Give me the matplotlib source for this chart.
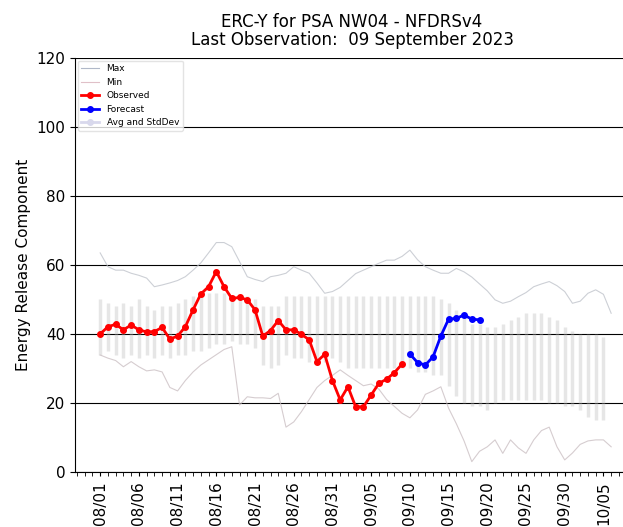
import numpy as np
import matplotlib
matplotlib.use("Agg")
import matplotlib.pyplot as plt
import matplotlib.dates as mdates
from matplotlib.lines import Line2D

start = np.datetime64("2023-08-01")

observed = [40.0, 42.1, 42.8, 41.2, 42.6, 41.2, 40.6, 40.7, 41.9, 38.5,
            39.4, 42.1, 47.0, 51.6, 53.7, 58.1, 53.7, 50.3, 50.6, 49.9,
            47.0, 39.4, 41.0, 43.9, 41.2, 41.2, 39.9, 38.3, 32.0, 34.1,
            26.5, 20.9, 24.7, 18.9, 18.9, 22.3, 25.7, 26.9, 28.8, 31.3]
forecast = [34.2, 31.7, 31.0, 33.4, 39.4, 44.3, 44.5, 45.5, 44.3, 44.1]

erc_max = [63.5, 59.5, 58.5, 58.5, 57.6, 57.0, 56.2, 53.7, 54.2, 54.8,
           55.5, 56.6, 58.5, 60.6, 63.5, 66.5, 66.5, 65.3, 61.0, 56.6,
           55.8, 55.2, 56.6, 57.0, 57.6, 59.5, 58.5, 57.6, 54.8, 51.8,
           52.3, 53.5, 55.5, 57.5, 58.5, 59.5, 60.5, 61.4, 61.4, 62.5,
           64.3, 61.5, 59.5, 58.5, 57.6, 57.6, 59.0, 58.0, 56.5, 54.5,
           52.5, 49.9, 48.9, 49.5, 50.8, 52.0, 53.7, 54.5, 55.2, 54.0,
           52.3, 48.9, 49.5, 51.8, 52.8, 51.5, 46.0]
erc_min = [33.9, 33.0, 32.3, 30.5, 32.0, 30.5, 29.3, 29.6, 29.0, 24.5,
           23.5, 26.5, 29.0, 31.0, 32.5, 34.0, 35.5, 36.3, 19.4, 21.8,
           21.5, 21.5, 21.3, 22.8, 13.0, 14.5, 17.5, 21.0, 24.5, 26.5,
           28.0, 29.6, 28.0, 26.5, 25.0, 25.5, 24.0, 21.0, 19.0, 17.0,
           15.7, 18.0, 22.5, 23.5, 24.7, 18.5, 14.0, 9.0, 3.0, 6.0,
           7.3, 9.3, 5.4, 9.3, 7.0, 5.4, 9.3, 12.0, 13.0, 7.3,
           3.5, 5.5, 8.0, 9.0, 9.3, 9.3, 7.3]

# top / bottom of avg +- std bars
band_top = [50, 49, 48, 49, 48, 50, 48, 47, 48, 48, 49, 50,
            51, 51, 52, 52, 52, 51, 51, 51, 50,
            48, 48, 48,
            51, 51, 51, 51, 51, 51, 51, 51,
            51, 51, 51, 51, 51, 51, 51, 51,
            51, 51, 51, 51, 50,
            49, 47, 45,
            43, 43, 42,
            42, 43, 44, 45, 46, 46, 46, 45,
            44, 42, 41, 40, 40, 40, 39]
band_bot = [34, 35, 34, 33, 34, 33, 34, 33, 34, 33, 34, 34,
            35, 35, 36, 37, 37, 38, 37, 37, 36,
            31, 30, 31,
            34, 33, 33, 32, 32, 32, 33, 32,
            30, 30, 30, 30, 30, 30, 30, 30,
            30, 29, 29, 28, 28,
            25, 22, 20,
            19, 19, 18,
            20, 21, 21, 21, 21, 21, 21, 20,
            20, 19, 19, 18, 16, 15, 15]

days_obs = start + np.arange(len(observed))
days_fc = days_obs[-1] + 1 + np.arange(len(forecast))
days_mm = start + np.arange(len(erc_max))
days_band = start + np.arange(len(band_top))
avg = (np.array(band_top) + np.array(band_bot)) / 2
std = (np.array(band_top) - np.array(band_bot)) / 2

fig = plt.figure(figsize=(6.23, 5.27), dpi=100)
ax = fig.add_axes([0.1204, 0.1044, 0.8896, 0.7856])

ax.errorbar(days_band, avg, yerr=std, fmt="none", ecolor="#b8b8b8",
            elinewidth=2.5, alpha=0.35)
ax.plot(days_mm, erc_max, color="#bcc0c8", lw=0.8, alpha=0.75)
ax.plot(days_mm, erc_min, color="#c8bcc0", lw=0.8, alpha=0.75)
ax.plot(days_obs, observed, color="red", lw=2, marker="o", ms=4)
ax.plot(days_fc, forecast, color="blue", lw=2, marker="o", ms=4)

ax.set_ylim(0, 120)
ax.set_yticks(range(0, 121, 20))
ax.set_xlim(start - np.timedelta64(78, "h"), start + np.timedelta64(68 * 24 + 8, "h"))
ticks = start + np.arange(0, 66, 5)
ax.set_xticks(ticks)
ax.set_xticks(start + np.arange(-3, 69), minor=True)
ax.xaxis.set_major_formatter(mdates.DateFormatter("%m/%d"))
plt.setp(ax.get_xticklabels(), rotation=90)
ax.tick_params(axis="both", labelsize=11)
ax.tick_params(axis="x", which="both", length=3)
ax.grid(axis="y", color="black", lw=0.8)
for s in ["top", "right"]:
    ax.spines[s].set_visible(False)

ax.set_ylabel("Energy Release Component", fontsize=11)
ax.set_title("ERC-Y for PSA NW04 - NFDRSv4\nLast Observation:  09 September 2023",
             fontsize=12, linespacing=1.05, pad=9)

handles = [
    Line2D([], [], color="#b0b8c8", lw=0.8),
    Line2D([], [], color="#e0c0c8", lw=0.8),
    Line2D([], [], color="red", lw=2, marker="o", ms=4),
    Line2D([], [], color="blue", lw=2, marker="o", ms=4),
    Line2D([], [], color="#d8d8ec", lw=2, marker="o", ms=4),
]
labels = ["Max", "Min", "Observed", "Forecast", "Avg and StdDev"]
ax.legend(handles, labels, loc="upper left", fontsize=6.5, framealpha=0.8,
          edgecolor="#dddddd", borderaxespad=0.3)

fig.savefig("out.png", dpi=100)
